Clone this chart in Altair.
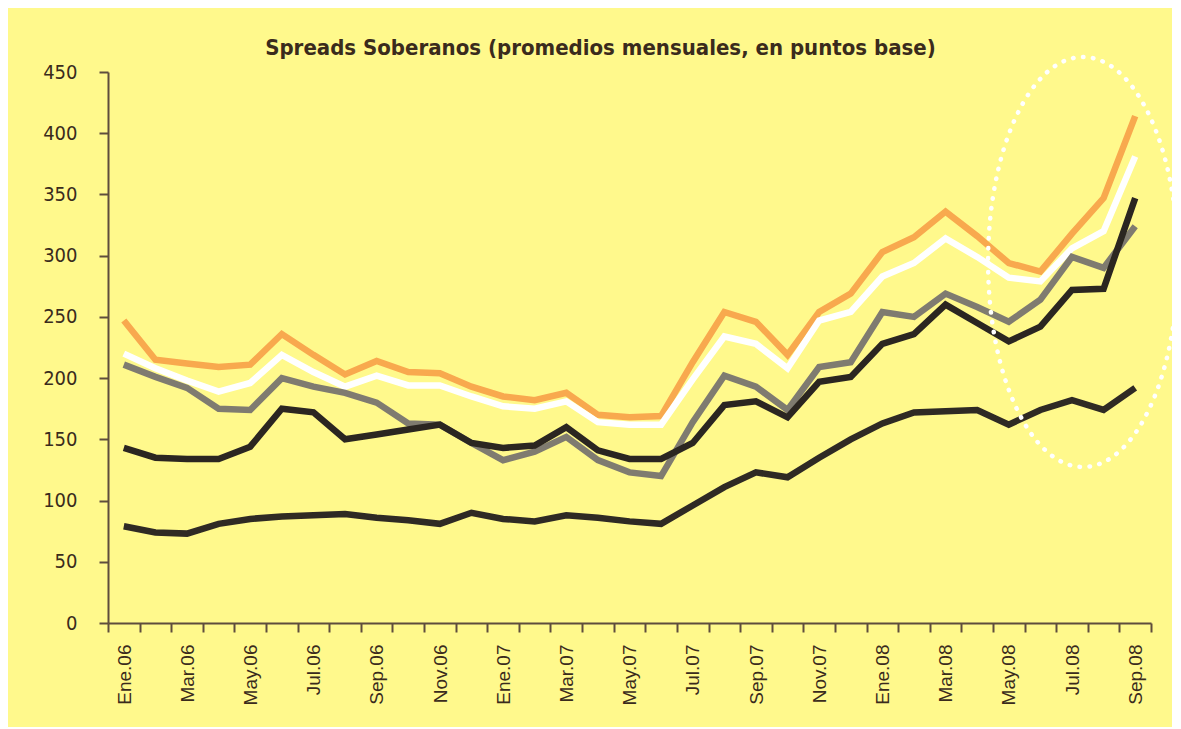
import altair as alt
import pandas as pd

# ---- data ----
months = ["Ene.06", "Feb.06", "Mar.06", "Abr.06", "May.06", "Jun.06", "Jul.06", "Ago.06",
          "Sep.06", "Oct.06", "Nov.06", "Dic.06",
          "Ene.07", "Feb.07", "Mar.07", "Abr.07", "May.07", "Jun.07", "Jul.07", "Ago.07",
          "Sep.07", "Oct.07", "Nov.07", "Dic.07",
          "Ene.08", "Feb.08", "Mar.08", "Abr.08", "May.08", "Jun.08", "Jul.08", "Ago.08",
          "Sep.08"]

orange = [247, 215, 212, 209, 211, 236, 219, 203, 214, 205, 204, 193, 185, 182, 188, 170,
          168, 169, 213, 254, 246, 219, 254, 269, 303, 315, 336, 316, 294, 287, 318, 347, 414]
white = [220, 208, 198, 189, 196, 219, 205, 193, 202, 194, 194, 185, 177, 175, 181, 164,
         162, 162, 199, 234, 228, 208, 247, 254, 283, 294, 314, 299, 282, 279, 306, 320, 381]
gray = [211, 201, 192, 175, 174, 200, 193, 188, 180, 163, 162, 147, 133, 140, 152, 133,
        123, 120, 164, 202, 193, 174, 209, 213, 254, 250, 269, 258, 246, 264, 299, 290, 324]
black_hi = [143, 135, 134, 134, 144, 175, 172, 150, 154, 158, 162, 147, 143, 145, 160, 141,
            134, 134, 147, 178, 181, 168, 197, 201, 228, 236, 260, 245, 230, 242, 272, 273, 347]
black_lo = [79, 74, 73, 81, 85, 87, 88, 89, 86, 84, 81, 90, 85, 83, 88, 86,
            83, 81, 96, 111, 123, 119, 135, 150, 163, 172, 173, 174, 162, 174, 182, 174, 192]

series = [("s1", orange, "#F8A94E"), ("s2", white, "#FFFFFF"), ("s3", gray, "#7F7B70"),
          ("s4", black_hi, "#2B2621"), ("s5", black_lo, "#2F2A24")]

rows = []
for name, vals, _ in series:
    for i, v in enumerate(vals):
        rows.append({"idx": i, "mes": months[i], "serie": name, "valor": v})
df = pd.DataFrame(rows)

TXT = "#3A2B1C"
AX = "#5E4D3D"
NARROW = "Liberation Sans Narrow, DejaVu Sans Condensed, sans-serif"
REG = "Liberation Sans, Arial, sans-serif"

n = len(months)
shown = [m if i % 2 == 0 else "" for i, m in enumerate(months)] + [""]
label_expr = "[" + ",".join("'%s'" % s for s in shown) + "][round(datum.value + 0.5)] || ''"

x_enc = alt.X(
    "idx:Q",
    scale=alt.Scale(domain=[-0.5, n - 0.5], nice=False, zero=False),
    axis=alt.Axis(
        values=[k - 0.5 for k in range(n + 1)],
        labelExpr=label_expr,
        labelAngle=-90,
        labelOffset=16,
        labelPadding=12,
        labelOverlap=False,
        labelFlush=False,
        labelBound=False,
        tickSize=9,
        tickWidth=2,
        domainWidth=2,
        domainColor=AX,
        tickColor=AX,
        labelColor=TXT,
        labelFont=REG,
        labelFontSize=19,
        grid=False,
        title=None,
    ),
)
y_enc = alt.Y(
    "valor:Q",
    scale=alt.Scale(domain=[0, 450], nice=False),
    axis=alt.Axis(
        values=list(range(0, 451, 50)),
        tickSize=9,
        tickWidth=2,
        domainWidth=2,
        domainColor=AX,
        tickColor=AX,
        labelColor=TXT,
        labelFont=NARROW,
        labelFontSize=20,
        labelPadding=22,
        grid=False,
        title=None,
    ),
)

layers = []
for name, _, color in series:
    layers.append(
        alt.Chart(df)
        .transform_filter(alt.datum.serie == name)
        .mark_line(color=color, strokeWidth=6.5, strokeJoin="miter")
        .encode(x=x_enc, y=y_enc)
    )

ellipse_path = "M -0.463 0 A 0.463 1 0 1 0 0.463 0 A 0.463 1 0 1 0 -0.463 0 Z"
ellipse = alt.Chart(pd.DataFrame({"k": [0]})).mark_point(
    shape=ellipse_path, filled=False, stroke="white", strokeWidth=4.5,
    strokeDash=[0.5, 9.5], strokeCap="round", opacity=1,
).encode(x=alt.value(975), y=alt.value(190), size=alt.value(168100))

chart = (
    alt.layer(*layers, ellipse)
    .properties(
        width=1043,
        height=551,
        padding={"left": 100, "top": 64, "right": 21, "bottom": 104},
        autosize=alt.AutoSizeParams(type="none"),
        title=alt.TitleParams(
            "Spreads Soberanos (promedios mensuales, en puntos base)",
            font=NARROW, fontSize=22, fontWeight="bold", color=TXT,
            anchor="middle", dx=-29, dy=24, offset=12,
        ),
    )
    .configure(background="#FFF98C")
    .configure_view(stroke=None)
)

chart.save("out.html", embed_options={"renderer": "svg", "actions": False})
